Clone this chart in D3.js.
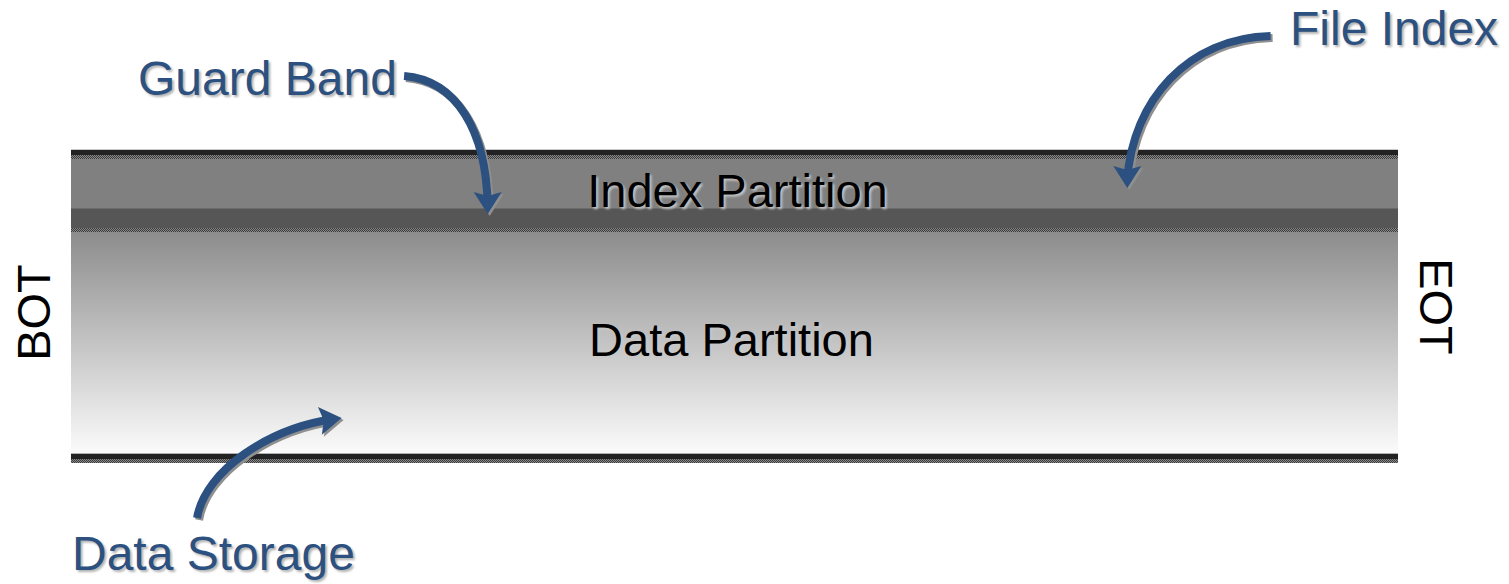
<!DOCTYPE html>
<html>
<head>
<meta charset="utf-8">
<script src="https://cdn.jsdelivr.net/npm/d3@7"></script>
<style>
  body { margin: 0; background: #fff; }
  text { font-family: "Liberation Sans", Arial, sans-serif; }
</style>
</head>
<body>
<div id="diagram"></div>
<script>
// Tape layout, top to bottom (units along the tape width)
var layerNames = ["topEdge", "Index Partition", "Guard Band", "midEdge", "Data Partition", "bottomEdge"];
var layerSizes = [9, 50, 19, 4, 222, 9];
var partitionLabels = ["Index Partition", "Data Partition"];
var endLabels = ["BOT", "EOT"];
var calloutLabels = ["Guard Band", "File Index", "Data Storage"];

var svgWidth = 1509;
var svgHeight = 584;

var svg = d3.select("#diagram")
    .append("svg")
    .attr("width", svgWidth)
    .attr("height", svgHeight);

var defs = svg.append("defs");

// checker pattern used for the track edges
var pat = defs.append("pattern")
    .attr("id", "checker")
    .attr("width", 2).attr("height", 2)
    .attr("patternUnits", "userSpaceOnUse");
pat.append("rect").attr("width", 2).attr("height", 2).attr("fill", "#8a8a8a");
pat.append("rect").attr("width", 1).attr("height", 1).attr("fill", "#3a3a3a");
pat.append("rect").attr("x", 1).attr("y", 1).attr("width", 1).attr("height", 1).attr("fill", "#3a3a3a");

var grad = defs.append("linearGradient")
    .attr("id", "dataGrad")
    .attr("x1", 0).attr("y1", 0).attr("x2", 0).attr("y2", 1);
grad.append("stop").attr("offset", "0%").attr("stop-color", "#8c8c8c");
grad.append("stop").attr("offset", "100%").attr("stop-color", "#fbfbfb");

// soft shadow for the callout text
var blur = defs.append("filter").attr("id", "soft")
    .attr("x", "-5%").attr("y", "-20%").attr("width", "110%").attr("height", "140%");
blur.append("feGaussianBlur").attr("stdDeviation", 0.8);

// scales: x runs from BOT to EOT, y across the tape
var x = d3.scaleLinear().domain([0, 1]).range([71, 1398]);
var total = d3.sum(layerSizes);
var y = d3.scaleLinear().domain([0, total]).range([150, 150 + total]);

var offsets = [];
var acc = 0;
layerSizes.forEach(function (s) { offsets.push(acc); acc += s; });

var layers = layerNames.map(function (n, i) {
    return { name: n, y0: offsets[i], y1: offsets[i] + layerSizes[i] };
});

var tape = svg.append("g");

layers.forEach(function (d) {
    var top = y(d.y0), h = y(d.y1) - y(d.y0);
    if (d.name === "Index Partition") {
        tape.append("rect").attr("x", x(0)).attr("y", top).attr("width", x(1) - x(0)).attr("height", h)
            .attr("fill", "#808080");
        tape.append("rect").attr("x", x(0)).attr("y", top + h - 1).attr("width", x(1) - x(0)).attr("height", 1)
            .attr("fill", "#6a6a6a");
    } else if (d.name === "Guard Band") {
        tape.append("rect").attr("x", x(0)).attr("y", top).attr("width", x(1) - x(0)).attr("height", h)
            .attr("fill", "#565656");
    } else if (d.name === "Data Partition") {
        tape.append("rect").attr("x", x(0)).attr("y", top).attr("width", x(1) - x(0)).attr("height", h)
            .attr("fill", "url(#dataGrad)");
    } else if (d.name === "midEdge") {
        tape.append("rect").attr("x", x(0)).attr("y", top).attr("width", x(1) - x(0)).attr("height", h)
            .attr("fill", "url(#checker)");
    } else {
        tape.append("rect").attr("x", x(0)).attr("y", top - 1).attr("width", x(1) - x(0)).attr("height", 1)
            .attr("fill", d.name === "topEdge" ? "#c8c8c8" : "#b0b0b0");
        tape.append("rect").attr("x", x(0)).attr("y", top).attr("width", x(1) - x(0)).attr("height", 5)
            .attr("fill", "#222");
        tape.append("rect").attr("x", x(0)).attr("y", top + 5).attr("width", x(1) - x(0)).attr("height", h - 5)
            .attr("fill", "url(#checker)");
    }
});

// text with a soft drop shadow
function shadowText(g, str, px, py, color, shadow, extra) {
    var t = g.append("g");
    t.append("text").attr("x", px + 2).attr("y", py + 2).attr("fill", shadow)
        .attr("filter", "url(#soft)").text(str).call(extra);
    t.append("text").attr("x", px).attr("y", py).attr("fill", color).text(str).call(extra);
    return t;
}

function big(sel) {
    sel.attr("font-size", "47px").attr("text-anchor", "middle");
}

var ip = layers[1], dp = layers[4];
shadowText(svg, partitionLabels[0], x(0.5) + 3, y(ip.y0) + 48, "#000", "#c4c4c4", big);
shadowText(svg, partitionLabels[1], x(0.5) - 3, y(dp.y0) + 124, "#000", "#c8c8c8", big);

// BOT / EOT
var midY = y(total / 2) + 6;
svg.append("text")
    .attr("transform", "translate(50," + midY + ") rotate(-90)")
    .attr("font-size", "47px").attr("text-anchor", "middle")
    .attr("fill", "#000").text(endLabels[0]);
svg.append("text")
    .attr("transform", "translate(1420," + (midY - 6) + ") rotate(90)")
    .attr("font-size", "47px").attr("text-anchor", "middle")
    .attr("fill", "#000").text(endLabels[1]);

// callouts
var blue = "#2c5180";
function labelLeft(sel) { sel.attr("font-size", "48px").attr("text-anchor", "start"); }
shadowText(svg, calloutLabels[0], 138, 95, blue, "#b0b0b0", labelLeft);
shadowText(svg, calloutLabels[1], 1290, 45, blue, "#b0b0b0", labelLeft);
shadowText(svg, calloutLabels[2], 72, 570, blue, "#b0b0b0", labelLeft);

// arrows: start point, two controls and tip in tape units
var arrows = [
    { p: [[0.251, -74], [0.29, -70], [0.313, -20], [0.314, 56]], dir: 90 },
    { p: [[0.904, -114], [0.842, -112], [0.80, -50], [0.796, 30]], dir: 90 },
    { p: [[0.095, 368], [0.101, 320], [0.15, 278], [0.198, 269]], dir: -8 }
];

function toPx(pt) { return [x(pt[0]), y(pt[1])]; }

var arrowG = svg.append("g");
arrows.forEach(function (a) {
    var pts = a.p.map(toPx);
    var path = d3.path();
    path.moveTo(pts[0][0], pts[0][1]);
    path.bezierCurveTo(pts[1][0], pts[1][1], pts[2][0], pts[2][1], pts[3][0], pts[3][1]);
    // shadow
    arrowG.append("path").attr("d", path.toString())
        .attr("transform", "translate(2,2)")
        .attr("fill", "none").attr("stroke", "#8f8f8f").attr("stroke-width", 8);
    var tip = pts[3];
    var head = "M8,0 L-14,-14 L-10,0 L-14,14 Z";
    var headT = "translate(" + tip[0] + "," + tip[1] + ") rotate(" + a.dir + ")";
    arrowG.append("path").attr("d", head)
        .attr("transform", "translate(2,2) " + headT)
        .attr("fill", "#8f8f8f");
    arrowG.append("path").attr("d", path.toString())
        .attr("fill", "none").attr("stroke", blue).attr("stroke-width", 8);
    arrowG.append("path").attr("d", head)
        .attr("transform", headT)
        .attr("fill", blue);
});
</script>
</body>
</html>
